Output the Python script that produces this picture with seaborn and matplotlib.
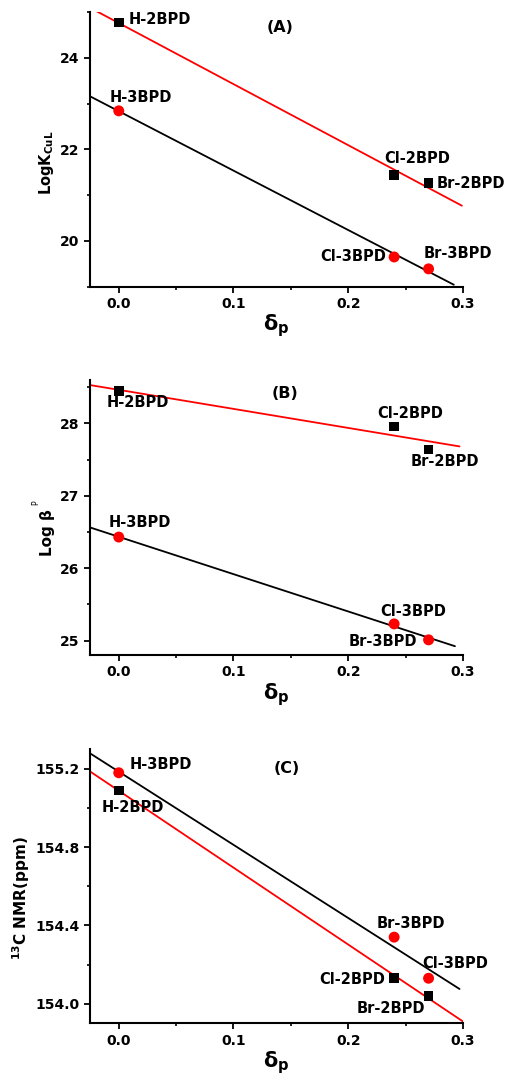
import numpy as np
import pandas as pd
import seaborn as sns
import matplotlib.pyplot as plt
from matplotlib.ticker import MultipleLocator

# substituent constants (delta_p) for H, Cl, Br
sigma_p = [0.0, 0.24, 0.27]

# (A) LogK_CuL
a_2bpd = [24.77, 21.44, 21.26]
a_3bpd = [22.84, 19.65, 19.39]
a_2labels = ['H-2BPD', 'Cl-2BPD', 'Br-2BPD']
a_3labels = ['H-3BPD', 'Cl-3BPD', 'Br-3BPD']

# (B) Log beta_P
b_2bpd = [28.45, 27.96, 27.64]
b_3bpd = [26.43, 25.23, 25.01]
b_2labels = ['H-2BPD', 'Cl-2BPD', 'Br-2BPD']
b_3labels = ['H-3BPD', 'Cl-3BPD', 'Br-3BPD']

# (C) 13C NMR (ppm)
c_2bpd = [155.09, 154.13, 154.04]
c_3bpd = [155.18, 154.34, 154.13]
c_2labels = ['H-2BPD', 'Cl-2BPD', 'Br-2BPD']
c_3labels = ['H-3BPD', 'Br-3BPD', 'Cl-3BPD']

sns.set_style("ticks")
plt.rcParams['font.family'] = ['DejaVu Sans']
plt.rcParams['font.weight'] = 'bold'
plt.rcParams['axes.labelweight'] = 'bold'
plt.rcParams['text.color'] = 'black'
plt.rcParams['axes.labelcolor'] = 'black'
plt.rcParams['axes.edgecolor'] = 'black'
plt.rcParams['xtick.color'] = 'black'
plt.rcParams['ytick.color'] = 'black'
plt.rcParams['mathtext.fontset'] = 'custom'
plt.rcParams['mathtext.rm'] = 'DejaVu Sans:bold'
plt.rcParams['mathtext.it'] = 'DejaVu Sans:bold'
plt.rcParams['mathtext.bf'] = 'DejaVu Sans:bold'

fig = plt.figure(figsize=(5.06, 10.82), dpi=100)

"""
panel settings: axes rect, ylim, major/minor y step, ylabel, title pos,
label offsets (pixels) for 2BPD and 3BPD points, fit line right ends
"""
panels = [
    dict(rect=[0.178, 0.735, 0.737, 0.254], ylim=(19, 25), major=2, minor=1,
         ylabel=r'$\mathrm{LogK}_{\mathrm{CuL}}$', lsize=10.5, lpos=(-0.092, 0.45),
         title='(A)', tpos=(0.509, 0.945),
         y2=a_2bpd, y3=a_3bpd, l2=a_2labels, l3=a_3labels,
         off2=[(10, 3, 'left'), (-10, 16, 'left'), (8, 0, 'left')],
         off3=[(-9, 13, 'left'), (-8, 0, 'right'), (-5, 15, 'left')],
         end2=0.299, end3=0.292),
    dict(rect=[0.178, 0.3946, 0.737, 0.2542], ylim=(24.8, 28.6), major=1, minor=0.5,
         ylabel=None, title='(B)', tpos=(0.523, 0.952),
         y2=b_2bpd, y3=b_3bpd, l2=b_2labels, l3=b_3labels,
         off2=[(-12, -12, 'left'), (-17, 13, 'left'), (-18, -12, 'left')],
         off3=[(-10, 15, 'left'), (-14, 12, 'left'), (-11, -2, 'right')],
         end2=0.297, end3=0.293),
    dict(rect=[0.178, 0.0543, 0.737, 0.2532], ylim=(153.9, 155.3), major=0.4, minor=0.2,
         ylabel=r'$^{13}$C NMR(ppm)', lsize=11, lpos=(-0.155, 0.457),
         title='(C)', tpos=(0.527, 0.931),
         y2=c_2bpd, y3=c_3bpd, l2=c_2labels, l3=c_3labels,
         off2=[(-17, -17, 'left'), (-9, -1, 'right'), (-3, -13, 'right')],
         off3=[(11, 8, 'left'), (-18, 14, 'left'), (-6, 15, 'left')],
         end2=0.300, end3=0.297),
]

x_left = -0.025

for p in panels:
    ax = fig.add_axes(p['rect'])
    df2 = pd.DataFrame({'x': sigma_p, 'y': p['y2']})
    df3 = pd.DataFrame({'x': sigma_p, 'y': p['y3']})

    # linear fits: red through squares, black through circles
    k2, b2 = np.polyfit(df2['x'], df2['y'], 1)
    k3, b3 = np.polyfit(df3['x'], df3['y'], 1)
    xl2 = np.array([x_left, p['end2']])
    xl3 = np.array([x_left, p['end3']])
    sns.lineplot(x=xl2, y=k2 * xl2 + b2, color='red', lw=1.3, ax=ax)
    sns.lineplot(x=xl3, y=k3 * xl3 + b3, color='black', lw=1.3, ax=ax)

    sns.scatterplot(data=df2, x='x', y='y', marker='s', color='black',
                    s=48, edgecolor='none', ax=ax, zorder=3)
    sns.scatterplot(data=df3, x='x', y='y', marker='o', color='red',
                    s=62, edgecolor='none', ax=ax, zorder=3)

    for (xx, yy, lab, off) in zip(sigma_p, p['y2'], p['l2'], p['off2']):
        ax.annotate(lab, (xx, yy), xytext=(off[0], off[1]), textcoords='offset pixels',
                    ha=off[2], va='center', fontsize=10.5, fontweight='bold')
    for (xx, yy, lab, off) in zip(sigma_p, p['y3'], p['l3'], p['off3']):
        ax.annotate(lab, (xx, yy), xytext=(off[0], off[1]), textcoords='offset pixels',
                    ha=off[2], va='center', fontsize=10.5, fontweight='bold')

    ax.text(p['tpos'][0], p['tpos'][1], p['title'], transform=ax.transAxes,
            ha='center', va='center', fontsize=11.5, fontweight='bold')

    ax.set_xlim(x_left, 0.3)
    ax.set_ylim(*p['ylim'])
    ax.xaxis.set_major_locator(MultipleLocator(0.1))
    ax.xaxis.set_minor_locator(MultipleLocator(0.05))
    ax.yaxis.set_major_locator(MultipleLocator(p['major']))
    ax.yaxis.set_minor_locator(MultipleLocator(p['minor']))
    ax.tick_params(which='major', direction='out', length=4, width=1.3, labelsize=10)
    ax.tick_params(which='minor', direction='out', length=2.5, width=1.2)
    for lab in ax.get_xticklabels() + ax.get_yticklabels():
        lab.set_fontweight('bold')
    ax.set_xlabel(r'$\delta_{p}$', fontsize=15, labelpad=1)
    if p['ylabel'] is not None:
        ax.set_ylabel(p['ylabel'], fontsize=p['lsize'])
        ax.yaxis.set_label_coords(*p['lpos'])
    else:
        ax.set_ylabel('')
        # "Log beta" with a tiny raised P, as in the original
        ax.text(-0.114, 0.444, 'Log β', rotation=90, transform=ax.transAxes,
                ha='center', va='center', fontsize=11, fontweight='bold')
        ax.text(-0.146, 0.553, 'P', rotation=90, transform=ax.transAxes,
                ha='center', va='center', fontsize=5.5, fontweight='normal')
    sns.despine(ax=ax)
    for sp in ['left', 'bottom']:
        ax.spines[sp].set_linewidth(1.5)

plt.savefig('out.png', dpi=100)
